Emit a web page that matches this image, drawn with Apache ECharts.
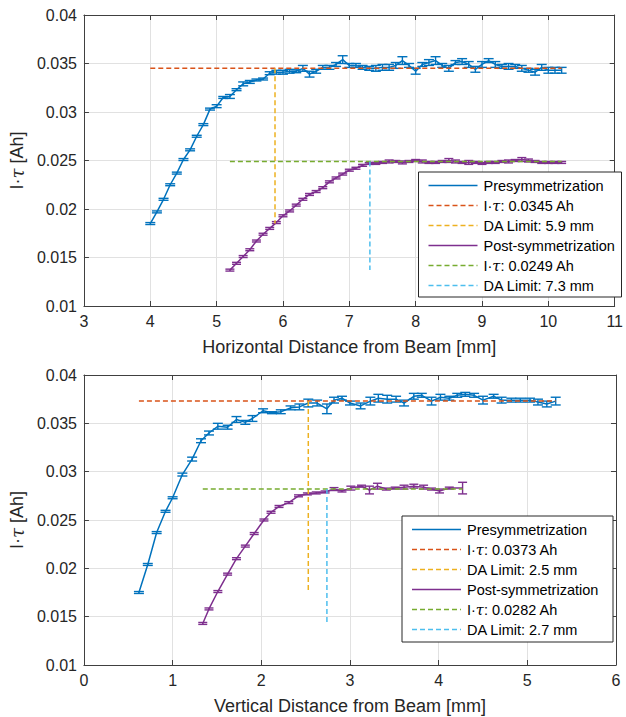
<!DOCTYPE html>
<html>
<head>
<meta charset="utf-8">
<script src="https://cdn.jsdelivr.net/npm/echarts@6/dist/echarts.min.js"></script>
<style>
html,body{margin:0;padding:0;background:#fff;}
#c{width:626px;height:717px;}
</style>
</head>
<body>
<div id="c"></div>
<script>
// ---------- DATA ----------
// Top panel (horizontal)
const hPreX = [4.0,4.1,4.2,4.3,4.4,4.5,4.6,4.7,4.8,4.9,5.0,5.1,5.2,5.3,5.4,5.5,5.6,5.7,5.8,5.9,6.0,6.1,6.2,6.3,6.4,6.5,6.6,6.7,6.8,6.9,7.0,7.1,7.2,7.3,7.4,7.5,7.6,7.7,7.8,7.9,8.0,8.1,8.2,8.3,8.4,8.5,8.6,8.7,8.8,8.9,9.0,9.1,9.2,9.3,9.4,9.5,9.6,9.7,9.8,9.9,10.0,10.1,10.2];
const hPreY = [0.0185,0.0197,0.0210,0.0225,0.0237,0.0251,0.0261,0.0275,0.0287,0.0303,
  0.0306,0.0315,0.0316,0.0323,0.0329,0.0331,0.0333,0.0334,0.0340,0.0341,
  0.0341,0.0342,0.0342,0.0345,0.0339,0.0342,0.0346,0.0346,0.0349,0.0354,
  0.0348,0.0348,0.0346,0.0345,0.0345,0.0346,0.0346,0.0348,0.0353,0.0348,
  0.0342,0.0349,0.0351,0.0353,0.0348,0.0345,0.0351,0.0352,0.0349,0.0344,
  0.0349,0.0353,0.0349,0.0347,0.0347,0.0347,0.0345,0.0343,0.0341,0.0346,
  0.0343,0.0343,0.0343];
const hPreE = [0.0001,0.0001,0.0001,0.0001,0.0001,0.0001,0.0001,0.0001,0.0001,0.0001,
  0.00015,0.0001,0.0002,0.0001,0.0002,0.00015,0.0001,0.0001,0.00015,0.0002,
  0.0002,0.0002,0.00015,0.0003,0.0003,0.0002,0.0002,0.0002,0.0002,0.0004,
  0.0002,0.0002,0.0002,0.0002,0.0003,0.0003,0.0003,0.0003,0.0004,0.0002,
  0.0003,0.0002,0.0003,0.0004,0.0002,0.0003,0.0002,0.0003,0.0003,0.0003,
  0.0003,0.0002,0.0003,0.0002,0.0003,0.0002,0.0003,0.0002,0.0003,0.0003,
  0.0003,0.0003,0.0003];
const hPostX = [5.2,5.3,5.4,5.5,5.6,5.7,5.8,5.9,6.0,6.1,6.2,6.3,6.4,6.5,6.6,6.7,6.8,6.9,7.0,7.1,7.2,7.3,7.4,7.5,7.6,7.7,7.8,7.9,8.0,8.1,8.2,8.3,8.4,8.5,8.6,8.7,8.8,8.9,9.0,9.1,9.2,9.3,9.4,9.5,9.6,9.7,9.8,9.9,10.0,10.1,10.2];
const hPostY = [0.0137,0.0144,0.0151,0.0158,0.0167,0.0174,0.0180,0.0186,
  0.0193,0.0198,0.0204,0.0210,0.0215,0.0218,0.0222,0.0228,0.0232,0.0236,
  0.0240,0.0242,0.0245,0.0247,0.0247,0.0248,0.0249,0.0249,0.0248,0.0249,
  0.0250,0.0249,0.0248,0.0248,0.0249,0.0250,0.0249,0.0248,0.0248,0.0248,
  0.0247,0.0248,0.0248,0.0249,0.0249,0.0250,0.0251,0.0250,0.0249,0.0248,
  0.0248,0.0248,0.0248];
const hPostE = [0.0001,0.0001,0.0001,0.0001,0.0001,0.0001,0.0001,0.0001,
  0.0001,0.0001,0.0001,0.0001,0.0001,0.0001,0.0001,0.0001,0.0001,0.0001,
  0.0001,0.0001,0.0001,0.0001,0.0001,0.0001,0.00015,0.0001,0.00015,0.0001,
  0.0001,0.00015,0.0001,0.0001,0.0001,0.0002,0.00015,0.0001,0.0002,0.0001,
  0.0001,0.0001,0.0001,0.0001,0.00015,0.0001,0.0002,0.00015,0.0001,0.0001,
  0.0001,0.0001,0.0001];
const hLevels = [0.0345, 0.0249];     // I·tau plateau (pre, post)
const hDA = [5.88, 7.31];             // DA limit positions (pre, post)
const hDALabels = ['5.9', '7.3'];

// Bottom panel (vertical)
const vPreX = [0.62,0.72,0.82,0.92,1.0,1.11,1.22,1.32,1.41,1.51,1.62,1.72,1.82,1.9,2.02,2.12,2.22,2.33,2.43,2.53,2.63,2.74,2.82,2.91,3.0,3.12,3.23,3.32,3.42,3.52,3.61,3.72,3.81,3.92,4.02,4.12,4.21,4.3,4.4,4.5,4.62,4.71,4.82,4.92,5.03,5.12,5.22,5.32];
const vPreY = [0.0175,0.0204,0.0237,0.0259,0.0273,0.0297,0.0313,0.0332,0.0340,0.0347,
  0.0346,0.0354,0.0351,0.0355,0.0363,0.0361,0.0362,0.0366,0.0367,0.0371,
  0.0371,0.0365,0.0374,0.0376,0.0371,0.0368,0.0373,0.0376,0.0375,0.0375,
  0.0371,0.0378,0.0379,0.0373,0.0377,0.0376,0.0379,0.0380,0.0379,0.0374,
  0.0378,0.0374,0.0374,0.0374,0.0374,0.0372,0.0370,0.0373];
const vPreE = [0.0001,0.0001,0.0001,0.0001,0.0001,0.00015,0.0002,0.0002,0.0002,0.0003,
  0.0002,0.0003,0.0002,0.0003,0.0002,0.0001,0.0002,0.0002,0.0003,0.0004,
  0.0003,0.0005,0.0003,0.0002,0.0002,0.0003,0.0004,0.0004,0.0004,0.0003,
  0.0003,0.0003,0.0002,0.0004,0.0003,0.0002,0.0002,0.0002,0.0002,0.0004,
  0.0002,0.0003,0.0002,0.0002,0.0002,0.0003,0.0003,0.0004];
const vPostX = [1.34,1.41,1.51,1.62,1.72,1.82,1.92,2.03,2.11,2.20,2.31,2.42,2.52,2.62,2.72,2.82,2.91,3.01,3.13,3.22,3.31,3.41,3.51,3.61,3.72,3.83,3.92,4.01,4.12,4.27];
const vPostY = [0.0143,0.0158,0.0176,0.0194,0.0210,0.0223,0.0236,0.0250,0.0258,0.0264,
  0.0268,0.0275,0.0277,0.0278,0.0279,0.0282,0.0280,0.0283,0.0285,0.0281,
  0.0285,0.0282,0.0283,0.0284,0.0285,0.0284,0.0282,0.0280,0.0283,0.0283];
const vPostE = [0.0001,0.0001,0.0001,0.0001,0.0001,0.0001,0.0001,0.0001,0.0001,0.0001,
  0.0001,0.0001,0.0001,0.0001,0.0001,0.00015,0.0001,0.0002,0.0001,0.0004,
  0.0003,0.0001,0.0001,0.0002,0.0002,0.0002,0.0001,0.0002,0.0001,0.0006];
const vLevels = [0.0373, 0.0282];
const vDA = [2.53, 2.74];
const vDALabels = ['2.5', '2.7'];

const seriesNames = ['Presymmetrization', 'Post-symmetrization'];
const xTitles = ['Horizontal Distance from Beam [mm]', 'Vertical Distance from Beam [mm]'];
const yTitle = 'I·{t|τ} [Ah]';

// ---------- STYLE ----------
const C = { pre:'#0072BD', lvlPre:'#D95319', daPre:'#EDB120', post:'#7E2F8E', lvlPost:'#77AC30', daPost:'#4DBEEE' };
const FONT = '"Liberation Sans", Arial, Helvetica, sans-serif';
const AX = '#404040';
const DASH = [5, 3];

const chart = echarts.init(document.getElementById('c'), null, {renderer:'svg'});

function zip3(a,b,c){ return a.map((v,i)=>[v,b[i],c[i]]); }
function zip2(a,b){ return a.map((v,i)=>[v,b[i]]); }

function errSeries(name, data, color, cap, xi, yi){
  return {
    type:'custom', name, xAxisIndex:xi, yAxisIndex:yi, data, clip:false, z:3,
    encode:{x:0,y:1},
    renderItem(params, api){
      const x=api.value(0), y=api.value(1), e=api.value(2);
      const hi=api.coord([x,y+e]), lo=api.coord([x,y-e]);
      const st={stroke:color, lineWidth:1.4, fill:null};
      const h=cap/2;
      return {type:'group', children:[
        {type:'line', shape:{x1:hi[0],y1:hi[1],x2:lo[0],y2:lo[1]}, style:st},
        {type:'line', shape:{x1:hi[0]-h,y1:hi[1],x2:hi[0]+h,y2:hi[1]}, style:st},
        {type:'line', shape:{x1:lo[0]-h,y1:lo[1],x2:lo[0]+h,y2:lo[1]}, style:st}
      ]};
    }
  };
}
function lineSeries(name, data, color, xi, yi, dashed){
  return {type:'line', name, data, xAxisIndex:xi, yAxisIndex:yi, symbol:'none', silent:true, z:dashed?4:3,
    lineStyle:{color, width:1.5, type: dashed?DASH:'solid'}, animation:false};
}

function panelSeries(p, preX, preY, preE, postX, postY, postE, levels, da){
  const xi=p*2, yi=p*2;
  const s=[];
  s.push(lineSeries(seriesNames[0], zip2(preX,preY), C.pre, xi, yi, false));
  s.push(errSeries(seriesNames[0]+' err', zip3(preX,preY,preE), C.pre, 10, xi, yi));
  s.push(lineSeries('lvlPre'+p, [[preX[0],levels[0]],[preX[preX.length-1],levels[0]]], C.lvlPre, xi, yi, true));
  s.push(lineSeries('daPre'+p, [[da[0],levels[0]],[da[0],Math.min(...preY)]], C.daPre, xi, yi, true));
  s.push(lineSeries(seriesNames[1], zip2(postX,postY), C.post, xi, yi, false));
  s.push(errSeries(seriesNames[1]+' err', zip3(postX,postY,postE), C.post, 9, xi, yi));
  s.push(lineSeries('lvlPost'+p, [[postX[0],levels[1]],[postX[postX.length-1],levels[1]]], C.lvlPost, xi, yi, true));
  s.push(lineSeries('daPost'+p, [[da[1],levels[1]],[da[1],Math.min(...postY)]], C.daPost, xi, yi, true));
  return s;
}

function xAxes(g, min, max, title){
  const base = {gridIndex:g, type:'value', min, max, interval:1,
    axisLine:{show:true, onZero:false, lineStyle:{color:AX, width:1}},
    axisTick:{show:true, inside:true, length:5, lineStyle:{color:AX}}};
  return [
    Object.assign({}, base, {position:'bottom',
      axisLabel:{fontSize:16, color:'#262626', fontFamily:FONT, margin:7},
      splitLine:{show:true, lineStyle:{color:'#e1e1e1', width:1}},
      name:title, nameLocation:'middle', nameGap:32,
      nameTextStyle:{fontSize:18, color:'#262626', fontFamily:FONT}}),
    Object.assign({}, base, {position:'top', axisLabel:{show:false}, splitLine:{show:false}})
  ];
}
function yAxes(g){
  const base = {gridIndex:g, type:'value', min:0.01, max:0.04, interval:0.005,
    axisLine:{show:true, onZero:false, lineStyle:{color:AX, width:1}},
    axisTick:{show:true, inside:true, length:5, lineStyle:{color:AX}}};
  return [
    Object.assign({}, base, {position:'left',
      axisLabel:{fontSize:16, color:'#262626', fontFamily:FONT, margin:7,
        formatter:v=>String(Math.round(v*1000)/1000)},
      splitLine:{show:true, lineStyle:{color:'#e1e1e1', width:1}},
      name:yTitle, nameLocation:'middle', nameGap:56, nameRotate:90,
      nameTextStyle:{fontSize:18, color:'#262626', fontFamily:FONT, rich:{t:{fontSize:18, fontStyle:'italic', fontFamily:'"DejaVu Serif", serif', color:'#262626'}}}}),
    Object.assign({}, base, {position:'right', axisLabel:{show:false}, splitLine:{show:false}})
  ];
}

function legendGraphic(box, levels, daLabels){
  const [x0,y0,w,h] = box;
  const rows = [
    {c:C.pre, dash:false, t:seriesNames[0]},
    {c:C.lvlPre, dash:true, t:'I·{t|τ}: '+levels[0]+' Ah'},
    {c:C.daPre, dash:true, t:'DA Limit: '+daLabels[0]+' mm'},
    {c:C.post, dash:false, t:seriesNames[1]},
    {c:C.lvlPost, dash:true, t:'I·{t|τ}: '+levels[1]+' Ah'},
    {c:C.daPost, dash:true, t:'DA Limit: '+daLabels[1]+' mm'}
  ];
  const els = [{type:'rect', shape:{x:x0,y:y0,width:w,height:h}, style:{fill:'#fff', stroke:'#262626', lineWidth:1}, z:100}];
  rows.forEach((r,i)=>{
    const cy = y0 + 13.5 + i*20;
    els.push({type:'line', shape:{x1:x0+10,y1:cy,x2:x0+59,y2:cy}, style:{stroke:r.c, lineWidth:1.5, lineDash:r.dash?DASH:null}, z:101});
    els.push({type:'text', x:x0+65, y:cy, style:{text:r.t, fontSize:14.5, fontFamily:FONT, fill:'#000', verticalAlign:'middle', align:'left',
      rich:{t:{fontSize:14.5, fontStyle:'italic', fontFamily:'"DejaVu Serif", serif', fill:'#000'}}}, z:101});
  });
  return els;
}

const option = {
  animation:false,
  backgroundColor:'#fff',
  grid:[
    {left:83.5, top:15, width:534.5, height:291},
    {left:82, top:375, width:534, height:290}
  ],
  xAxis:[...xAxes(0,3,11,xTitles[0]), ...xAxes(1,0,6,xTitles[1])],
  yAxis:[...yAxes(0), ...yAxes(1)],
  series:[
    ...panelSeries(0, hPreX,hPreY,hPreE, hPostX,hPostY,hPostE, hLevels, hDA),
    ...panelSeries(1, vPreX,vPreY,vPreE, vPostX,vPostY,vPostE, vLevels, vDA)
  ],
  graphic:[
    ...legendGraphic([418.5,172,203,125], hLevels, hDALabels),
    ...legendGraphic([402,516,211,126], vLevels, vDALabels)
  ]
};
chart.setOption(option);
</script>
</body>
</html>
